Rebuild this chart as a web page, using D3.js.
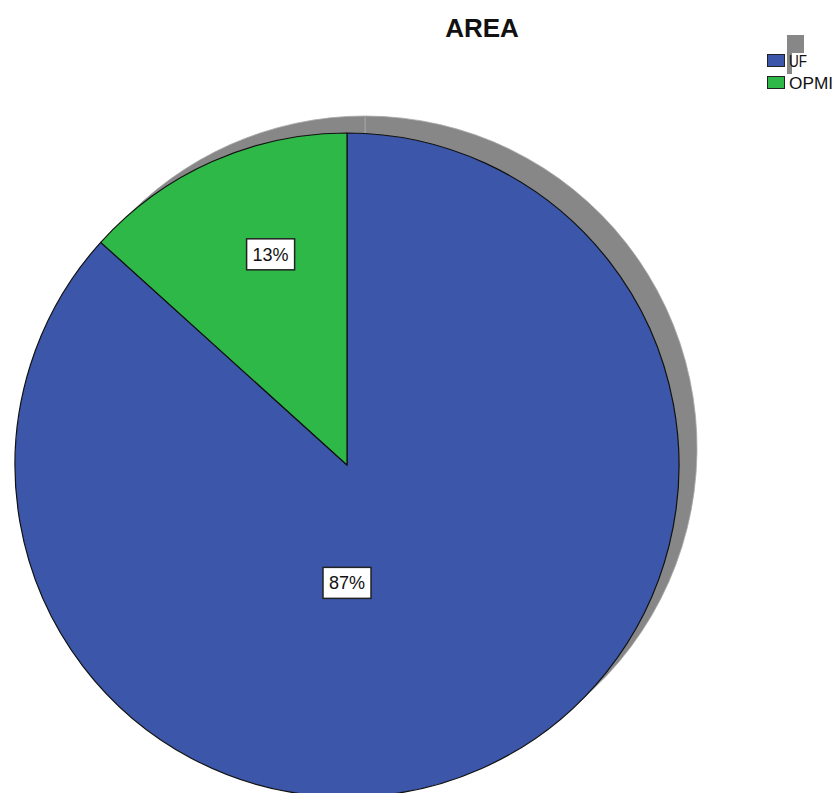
<!DOCTYPE html>
<html>
<head>
<meta charset="utf-8">
<script src="https://cdn.jsdelivr.net/npm/d3@7"></script>
<style>
  html, body { margin: 0; padding: 0; background: #fff; }
  svg { display: block; }
</style>
</head>
<body>
<svg id="chart" width="839" height="793"></svg>
<script>
const title = "AREA";
const categories = ["UF", "OPMI"];
const values = [86.7, 13.3];
const colors = ["#3c56a9", "#2eb847"];

const W = 839, H = 793;
const svg = d3.select("#chart");
const cx = 347, cy = 465, R = 332;
const shadowDx = 18, shadowDy = -17;

const pie = d3.pie().sort(null).value(d => d)(values);
const arc = d3.arc().innerRadius(0).outerRadius(R);

// shadow
const sh = svg.append("g").attr("transform", `translate(${cx + shadowDx},${cy + shadowDy})`);
sh.selectAll("path").data(pie).join("path")
  .attr("d", arc)
  .attr("fill", "#878787")
  .attr("stroke", "#a8a8a8")
  .attr("stroke-width", 0.8);

// main pie
const g = svg.append("g").attr("transform", `translate(${cx},${cy})`);
g.selectAll("path").data(pie).join("path")
  .attr("d", arc)
  .attr("fill", (d, i) => colors[i])
  .attr("stroke", "#111")
  .attr("stroke-width", 1.2)
  .attr("stroke-linejoin", "round");

// labels
const total = d3.sum(values);
pie.forEach((d, i) => {
  const span = d.endAngle - d.startAngle;
  const big = span > Math.PI;
  const ang = big ? Math.PI : (d.startAngle + d.endAngle) / 2 + 0.07;
  const rr = big ? 0.355 * R : 0.675 * R;
  const x = Math.sin(ang) * rr, y = -Math.cos(ang) * rr;
  const txt = Math.round(d.value / total * 100) + "%";
  const lg = g.append("g").attr("transform", `translate(${x},${y})`);
  lg.append("rect")
    .attr("x", -24).attr("y", -15.5)
    .attr("width", 48).attr("height", 31)
    .attr("fill", "#fff")
    .attr("stroke", "#222")
    .attr("stroke-width", 1.5);
  lg.append("text")
    .attr("text-anchor", "middle")
    .attr("dy", "0.36em")
    .attr("font-family", "Arial, 'Liberation Sans', sans-serif")
    .attr("font-size", 18)
    .attr("fill", "#111")
    .text(txt);
});

// title
svg.append("text")
  .attr("x", 482).attr("y", 37)
  .attr("text-anchor", "middle")
  .attr("font-family", "Arial, 'Liberation Sans', sans-serif")
  .attr("font-weight", "bold")
  .attr("font-size", 26)
  .attr("fill", "#111")
  .text(title);

// legend
const leg = svg.append("g");
leg.append("rect").attr("x", 787).attr("y", 35).attr("width", 17).attr("height", 18).attr("fill", "#878787");
leg.append("rect").attr("x", 787).attr("y", 53).attr("width", 5).attr("height", 21).attr("fill", "#878787");
categories.forEach((c, i) => {
  const y0 = 54 + i * 22;
  leg.append("rect")
    .attr("x", 767.5).attr("y", y0 + 0.5)
    .attr("width", 17).attr("height", 12)
    .attr("fill", colors[i])
    .attr("stroke", "#222")
    .attr("stroke-width", 1);
  leg.append("text")
    .attr("x", 789).attr("y", y0 + 13)
    .attr("font-family", "Arial, 'Liberation Sans', sans-serif")
    .attr("font-size", 16)
    .attr("textLength", i === 0 ? 18 : 44)
    .attr("lengthAdjust", "spacingAndGlyphs")
    .attr("fill", "#111")
    .text(c);
});
</script>
</body>
</html>
